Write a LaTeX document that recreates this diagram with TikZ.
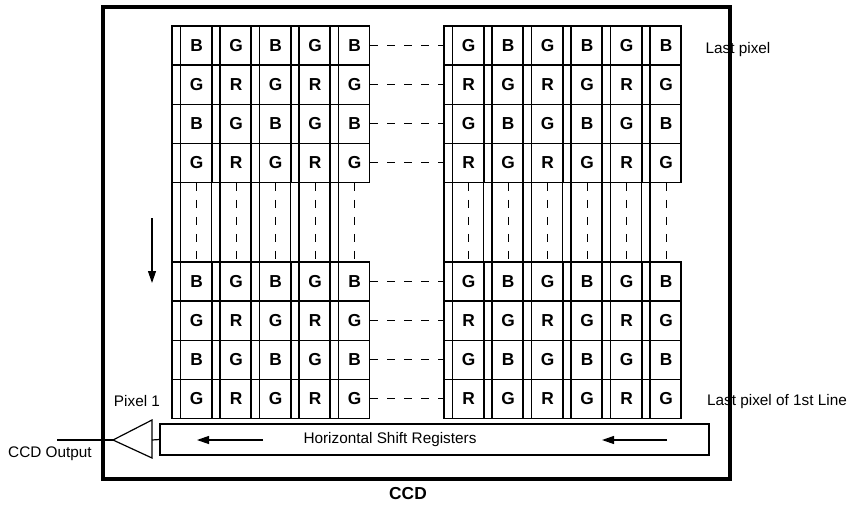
\documentclass[tikz,border=0pt]{standalone}
\usepackage{fontspec}
\setmainfont{Liberation Sans}
\usetikzlibrary{arrows.meta}

% colour of a Bayer site from column and row parity
\newcommand\bayer[2]{\ifodd#2\relax\ifodd#1\relax R\else G\fi\else\ifodd#1\relax G\else B\fi\fi}

\begin{document}
\begin{tikzpicture}[
  x=0.75pt, y=-0.75pt,
  font=\fontsize{11.5}{13}\selectfont,
  ccdframe/.style={rectangle, draw, line width=3pt, inner sep=0pt},
  cell/.style={rectangle, draw, line width=0.9pt, minimum width=29.1pt, minimum height=29.3pt,
               inner sep=0pt, anchor=west, font=\fontsize{13}{15}\selectfont\bfseries},
  vreg/.style={rectangle, draw, line width=0.9pt, minimum width=6.4pt, minimum height=294.3pt, inner sep=0pt},
  gapline/.style={line width=0.9pt, dash pattern=on 6pt off 6.75pt},
  xfer/.style={-{Triangle[length=9pt,width=6pt]}, line width=0.9pt},
  reg/.style={rectangle, draw, line width=0.9pt, minimum width=411.75pt, minimum height=23.25pt, inner sep=0pt}
]
\useasboundingbox (0,0) rectangle (848,510);

\node[ccdframe, minimum width=470.25pt, minimum height=354pt] (ccd) at (416.5,243) {};

% vertical registers
\foreach \i in {0,...,4}
  \node[vreg] (Lv-\i) at (172+39.5*\i+4.25, 222.2) {};
\foreach \i in {0,...,5}
  \node[vreg] (Rv-\i) at (444+39.5*\i+4.25, 222.2) {};

% pixel rows
\foreach \r/\y in {0/26, 1/65.1, 2/104.2, 3/143.3, 4/262, 5/301.1, 6/340.2, 7/379.3} {
  \foreach \i in {0,...,4}
    \node[cell] (L-\i-\r) at (172+39.5*\i, \y+19.55) {\hspace*{6.9pt}\bayer{\i}{\r}};
  \foreach \i in {0,...,5} {
    \pgfmathtruncatemacro\k{\i+1}
    \node[cell] (R-\i-\r) at (444+39.5*\i, \y+19.55) {\hspace*{6.9pt}\bayer{\k}{\r}};
  }
  \draw[gapline] (L-4-\r.east) -- (L-4-\r.east -| Rv-0.west);
}

% skipped rows
\foreach \i in {0,...,4}
  \draw[gapline] ([xshift=3.45pt]L-\i-3.south) -- ([xshift=3.45pt]L-\i-4.north);
\foreach \i in {0,...,5}
  \draw[gapline] ([xshift=3.45pt]R-\i-3.south) -- ([xshift=3.45pt]R-\i-4.north);

\coordinate (vs-a) at (152,218);
\coordinate (vs-b) at (152,283);
\draw[xfer] (vs-a) -- (vs-b);

% horizontal shift register and output amplifier
\node[reg] (hsr) at (434.5,439.5) {};
\node (hsr-txt) at (390,440) {Horizontal Shift Registers};
\coordinate (hs-a) at (263,440);
\coordinate (hs-b) at (197,440);
\coordinate (hs-c) at (667,440);
\coordinate (hs-d) at (602,440);
\draw[xfer] (hs-a) -- (hs-b);
\draw[xfer] (hs-c) -- (hs-d);

\coordinate (amp-tip) at (113,440);
\coordinate (amp-top) at (152,420);
\coordinate (amp-bot) at (152,458);
\coordinate (amp-in) at (152,440);
\coordinate (out) at (57,440);
\draw[line width=0.9pt] (amp-tip) -- (amp-top) -- (amp-bot) -- cycle;
\draw[line width=0.9pt] (amp-in) -- (hsr.west);
\draw[line width=0.9pt] (amp-tip) -- (out);

\node (pix1) at (137,401) {Pixel 1};
\node (lastpx) at (738,50) {Last pixel};
\node (lastline) at (777,402) {Last pixel of 1st Line};
\node (outlbl) at (50,454) {CCD Output};
\node[font=\fontsize{13}{15}\selectfont\bfseries] (ccdlbl) at (408,494) {CCD};
\end{tikzpicture}
\end{document}
